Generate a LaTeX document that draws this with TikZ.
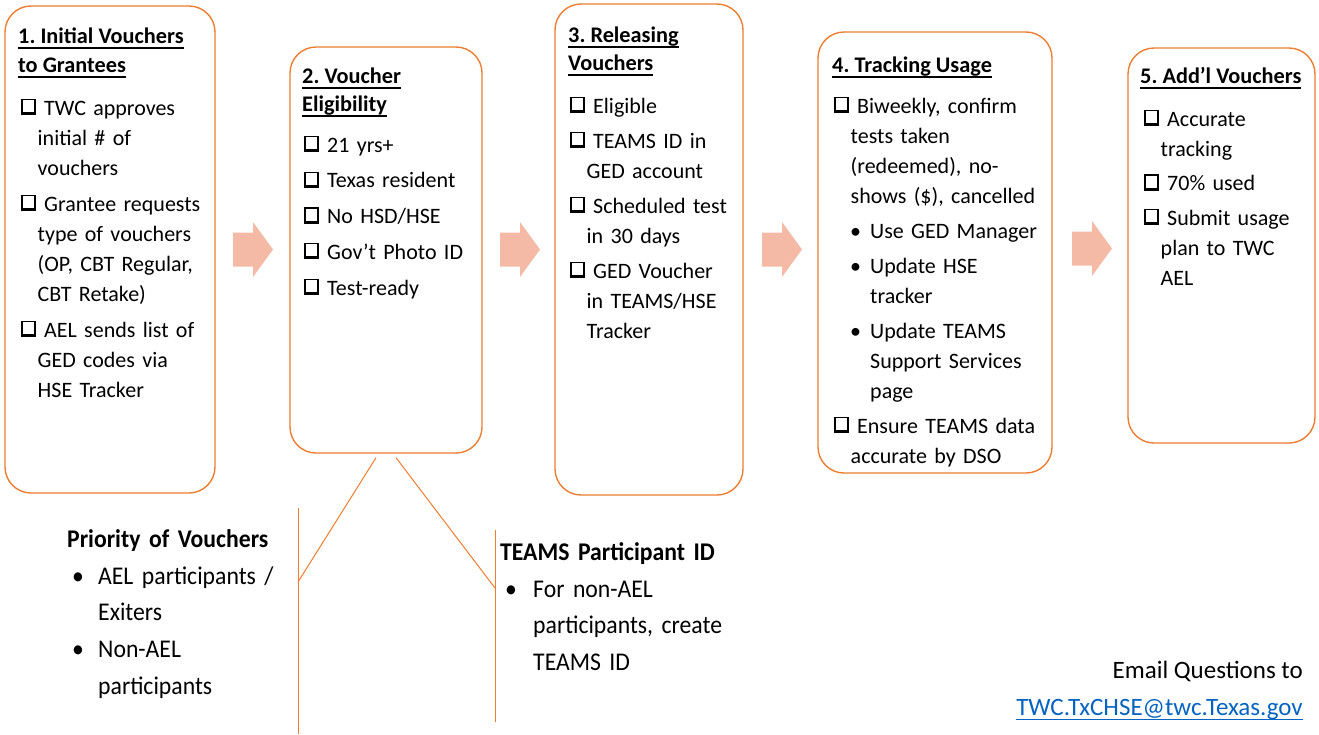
\documentclass[tikz,border=0pt]{standalone}
\usepackage{fontspec}
\setmainfont{Carlito}
\newfontfamily\sidefont[FakeStretch=0.93]{Carlito}
\usetikzlibrary{calc}
\definecolor{boxorange}{HTML}{ED7D31}
\definecolor{arrowfill}{RGB}{244,186,166}
\definecolor{linkblue}{HTML}{0563C1}
\newsavebox\hulbox
\newlength\itemgap
\setlength\itemgap{5.5pt}
\newcommand\nl{\hfil\break}
\newcommand\hul[1]{\sbox\hulbox{#1}\rlap{\rule[-5.5pt]{\wd\hulbox}{1.8pt}}\usebox\hulbox}
\newcommand\lnk[1]{\sbox\hulbox{#1}\rlap{\rule[-5pt]{\wd\hulbox}{1.3pt}}\usebox\hulbox}
\newcommand\chkglyph{\makebox[15pt][l]{%
  \rlap{\rule[0pt]{2.3pt}{16.3pt}}%
  \rlap{\rule[0pt]{15pt}{3pt}}%
  \rlap{\rule[15pt]{15pt}{1.3pt}}%
  \rlap{\hspace*{13.7pt}\rule[0pt]{1.3pt}{16.3pt}}}}
\newcommand\chk{\makebox[24pt][l]{\hspace*{0.5pt}\chkglyph}}
\newcommand\firstc{\noindent\hangindent=17.5pt\hangafter=1\strut\chk}
\newcommand\nextc{\par\vskip\itemgap\noindent\hangindent=17.5pt\hangafter=1\chk}
\newcommand\nextb{\par\vskip\itemgap\noindent\hangindent=37pt\hangafter=1\hspace*{17pt}\makebox[20pt][l]{\textbullet}}
\newcommand\lbul[2]{\par\noindent\hangindent=#2\hangafter=1\hspace*{#1}\makebox[\dimexpr#2-#1\relax][l]{\textbullet}}
\frenchspacing
\tikzset{
  stepbox/.style={draw=boxorange, line width=1.4pt, rounded corners=26pt, inner sep=0pt},
  txt/.style={anchor=north west, inner sep=0pt, text width=300pt, font=\fontsize{22}{30}\selectfont},
  head/.style={anchor=base west, inner sep=0pt, font=\bfseries\fontsize{22.3}{29}\selectfont},
  side/.style={anchor=north west, inner sep=0pt, text width=300pt, font=\sidefont\fontsize{25.5}{36.8}\selectfont},
  callout/.style={draw=boxorange, line width=1pt},
  barrow/.pic={\fill[arrowfill] (-20,-17) -- (0,-17) -- (0,-27.5) -- (20,0) -- (0,27.5) -- (0,17) -- (-20,17) -- cycle;}
}
\begin{document}
\begin{tikzpicture}[x=1pt,y=-1pt]
\frenchspacing
\useasboundingbox (0,0) rectangle (1319,734);
% boxes
\node[stepbox, minimum width=210pt, minimum height=487pt] (b1) at (110,249.5) {};
\node[stepbox, minimum width=192pt, minimum height=406pt] (b2) at (386,250) {};
\node[stepbox, minimum width=188pt, minimum height=491pt] (b3) at (649,249.5) {};
\node[stepbox, minimum width=234pt, minimum height=441pt] (b4) at (935,252.5) {};
\node[stepbox, minimum width=187pt, minimum height=395pt] (b5) at (1221.5,245.5) {};
% arrows
\pic (a1) at (253,249.5) {barrow};
\pic (a2) at (520,249.5) {barrow};
\pic (a3) at (782,249.5) {barrow};
\pic (a4) at (1092,248.5) {barrow};
% box 1
\node[head] (h1a) at (18,43) {\hul{1. Initial Vouchers}};
\node[head] (h1b) at (18,72) {\hul{to Grantees}};
\node[txt] (t1) at (20,94) {\setlength\itemgap{6pt}%
\firstc TWC approves\nl initial \# of\nl vouchers
\nextc Grantee requests\nl type of vouchers\nl (OP, CBT Regular,\nl CBT Retake)
\nextc AEL sends list of\nl GED codes via\nl HSE Tracker\par};
% box 2
\node[head] (h2a) at (302,83) {\hul{2. Voucher}};
\node[head] (h2b) at (302,111) {\hul{Eligibility}};
\node[txt] (t2) at (303,131) {\setlength\itemgap{5.75pt}%
\firstc 21 yrs+
\nextc Texas resident
\nextc No HSD/HSE
\nextc Gov’t Photo ID
\nextc Test-ready\par};
% box 3
\node[head] (h3a) at (568,42) {\hul{3. Releasing}};
\node[head] (h3b) at (568,70) {\hul{Vouchers}};
\node[txt] (t3) at (569,92) {\setlength\itemgap{5pt}%
\firstc Eligible
\nextc TEAMS ID in\nl GED account
\nextc Scheduled test\nl in 30 days
\nextc GED Voucher\nl in TEAMS/HSE\nl Tracker\par};
% box 4
\node[head] (h4) at (832,72) {\hul{4. Tracking Usage}};
\node[txt] (t4) at (833,92) {\setlength\itemgap{5pt}%
\firstc Biweekly, confirm\nl tests taken\nl (redeemed), no-\nl shows (\$), cancelled
\nextb Use GED Manager
\nextb Update HSE\nl tracker
\nextb Update TEAMS\nl Support Services\nl page
\nextc Ensure TEAMS data\nl accurate by DSO\par};
% box 5
\node[head] (h5) at (1140,83) {\hul{5. Add’l Vouchers}};
\node[txt] (t5) at (1143,105) {\setlength\itemgap{4.5pt}%
\firstc Accurate\nl tracking
\nextc 70\% used
\nextc Submit usage\nl plan to TWC\nl AEL\par};
% callout lines
\coordinate (l1) at ($(b2.south)+(-10,4)$);
\coordinate (l2) at (298,582);
\coordinate (l3) at (298,508);
\coordinate (l4) at (298,734);
\coordinate (r1) at ($(b2.south)+(10,4)$);
\coordinate (r2) at (495,588);
\coordinate (r3) at (495,530);
\coordinate (r4) at (495,722);
\draw[callout] (l1) -- (l2);
\draw[callout] (l3) -- (l4);
\draw[callout] (r1) -- (r2);
\draw[callout] (r3) -- (r4);
% side notes
\node[side] (p1) at (67,521.3) {\noindent\strut\textbf{Priority of Vouchers}
\lbul{5pt}{31pt}AEL participants /\nl Exiters
\lbul{5pt}{31pt}Non-AEL\nl participants\par};
\node[side] (p2) at (500,534.3) {\noindent\strut\textbf{TEAMS Participant ID}
\lbul{5pt}{33pt}For non-AEL\nl participants, create\nl TEAMS ID\par};
% email
\node[anchor=base east, inner sep=0pt, font=\fontsize{25}{30}\selectfont] (em1) at (1303,678) {Email Questions to};
\node[anchor=base east, inner sep=0pt, font=\fontsize{25}{30}\selectfont, text=linkblue] (em2) at (1303,715) {\lnk{TWC.TxCHSE@twc.Texas.gov}};
\end{tikzpicture}
\end{document}
